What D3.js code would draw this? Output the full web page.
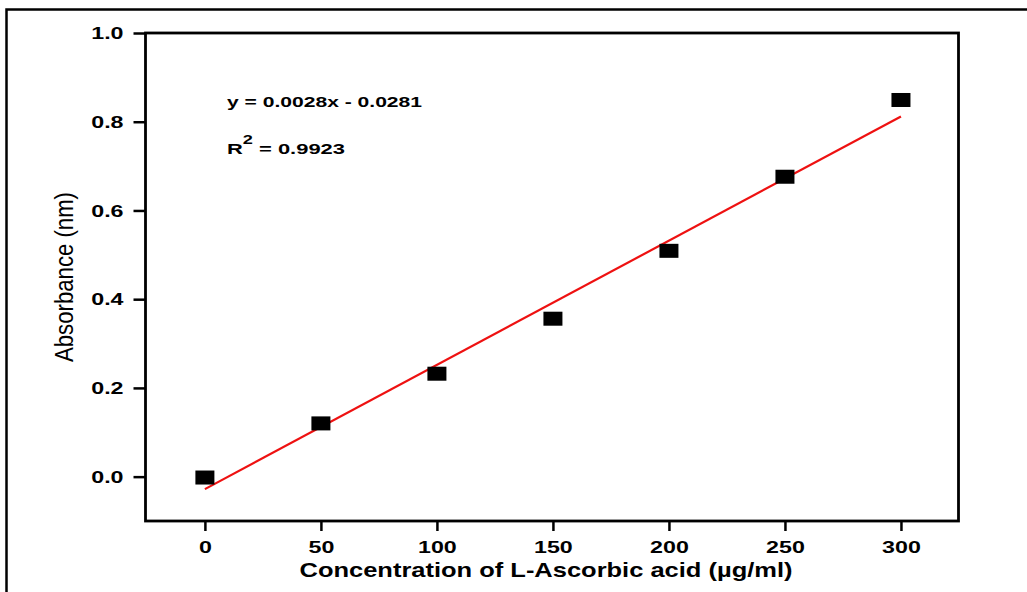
<!DOCTYPE html>
<html>
<head>
<meta charset="utf-8">
<script src="https://cdn.jsdelivr.net/npm/d3@7"></script>
<style>
  body { margin: 0; background: #fff; }
  svg { display: block; font-family: Arial, "Liberation Sans", sans-serif; }
</style>
</head>
<body>
<script>
// data
var concentrations = [0, 50, 100, 150, 200, 250, 300];
var absorbance = [-0.002, 0.12, 0.232, 0.356, 0.509, 0.676, 0.849];
var xTicks = [0, 50, 100, 150, 200, 250, 300];
var yTicks = [0.0, 0.2, 0.4, 0.6, 0.8, 1.0];
var fitSlope = 0.0028;
var fitIntercept = -0.0281;
var fitRange = [0, 300];
var equationLabel = "y = 0.0028x - 0.0281";
var r2Value = "0.9923";

var width = 1027, height = 592;
var stretch = 1.45; // the original picture is widened horizontally

var svg = d3.select("body").append("svg").attr("width", width).attr("height", height);

// outer frame
svg.append("rect")
  .attr("x", 6.5).attr("y", 9.5).attr("width", 1040).attr("height", 620)
  .attr("fill", "none").attr("stroke", "#000").attr("stroke-width", 2.5);

var margin = {left: 145.5, right: 958.5, top: 33, bottom: 521};

var x = d3.scaleLinear().domain([-25.6, 324.8]).range([margin.left, margin.right]);
var y = d3.scaleLinear().domain([-0.1, 1.0]).range([margin.bottom, margin.top]);

// widen a text element like the source image
function widen(sel, factor) {
  sel.each(function() {
    var len = this.getComputedTextLength();
    d3.select(this).attr("textLength", len * factor).attr("lengthAdjust", "spacingAndGlyphs");
  });
}

var xAxis = d3.axisBottom(x).tickValues(xTicks).tickSize(10).tickPadding(12).tickFormat(d3.format("d"));
var yAxis = d3.axisLeft(y).tickValues(yTicks).tickSize(12).tickPadding(10).tickFormat(d3.format(".1f"));

var gx = svg.append("g").attr("transform", "translate(0," + margin.bottom + ")").call(xAxis);
var gy = svg.append("g").attr("transform", "translate(" + margin.left + ",0)").call(yAxis);

[gx, gy].forEach(function(g) {
  g.select(".domain").remove();
  g.selectAll(".tick line").attr("stroke", "#000").attr("stroke-width", 2.5);
  g.selectAll(".tick text")
    .attr("fill", "#000")
    .style("font-size", "16px")
    .style("font-weight", "bold")
    .style("font-family", "Arial, 'Liberation Sans', sans-serif");
});
gx.selectAll(".tick text").attr("dy", null).attr("y", 32);
gy.selectAll(".tick text").attr("x", -22).attr("dy", "0.36em");
widen(gx.selectAll(".tick text"), stretch);
widen(gy.selectAll(".tick text"), stretch);

// plot box
svg.append("rect")
  .attr("x", margin.left).attr("y", margin.top)
  .attr("width", margin.right - margin.left).attr("height", margin.bottom - margin.top)
  .attr("fill", "none").attr("stroke", "#000").attr("stroke-width", 2.8);

// fit line
svg.append("line")
  .attr("x1", x(fitRange[0])).attr("y1", y(fitSlope * fitRange[0] + fitIntercept))
  .attr("x2", x(fitRange[1])).attr("y2", y(fitSlope * fitRange[1] + fitIntercept))
  .attr("stroke", "#ee1111").attr("stroke-width", 2.2);

// points
var pts = concentrations.map(function(c, i) { return {x: c, y: absorbance[i]}; });
svg.selectAll(".pt").data(pts).enter().append("rect")
  .attr("class", "pt")
  .attr("x", function(d) { return x(d.x) - 9.5; })
  .attr("y", function(d) { return y(d.y) - 7; })
  .attr("width", 19).attr("height", 14)
  .attr("fill", "#000");

// equation
svg.append("text")
  .attr("x", 227).attr("y", 107)
  .style("font-size", "14.5px").style("font-weight", "bold")
  .attr("textLength", 195).attr("lengthAdjust", "spacingAndGlyphs")
  .text(equationLabel);

var r2 = svg.append("text")
  .attr("x", 227).attr("y", 154)
  .style("font-size", "14.5px").style("font-weight", "bold");
r2.append("tspan").text("R");
r2.append("tspan").attr("dy", -10).style("font-size", "12px").text("2");
r2.append("tspan").attr("dy", 10).text(" = " + r2Value);
r2.attr("textLength", 118).attr("lengthAdjust", "spacingAndGlyphs");

// axis titles
svg.append("text")
  .attr("x", 546).attr("y", 577)
  .attr("text-anchor", "middle")
  .style("font-size", "21px").style("font-weight", "bold")
  .attr("textLength", 493).attr("lengthAdjust", "spacingAndGlyphs")
  .text("Concentration of L-Ascorbic acid (\u00b5g/ml)");

svg.append("text")
  .attr("transform", "translate(73,277) rotate(-90)")
  .attr("text-anchor", "middle")
  .style("font-size", "25px")
  .attr("textLength", 170).attr("lengthAdjust", "spacingAndGlyphs")
  .text("Absorbance (nm)");
</script>
</body>
</html>
